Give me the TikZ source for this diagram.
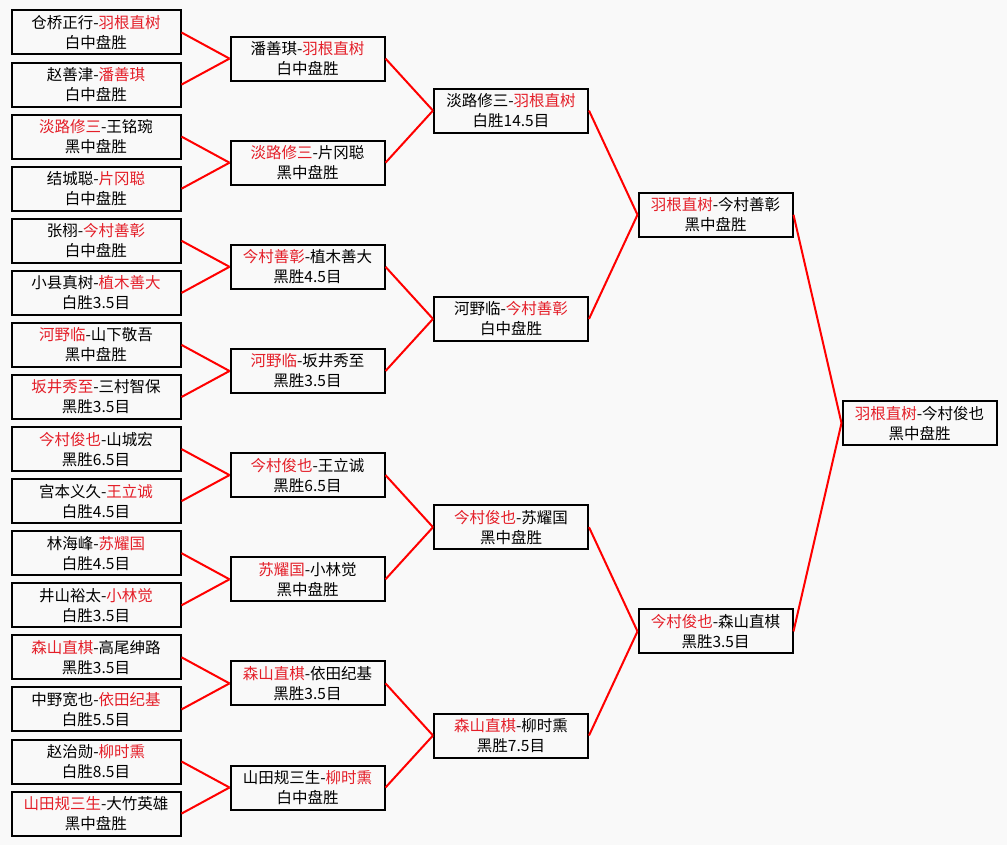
\documentclass[tikz,border=0pt]{standalone}
\usepackage{fontspec}
\setmainfont{Noto Sans CJK SC}
\usepackage{tikz}
\definecolor{winred}{RGB}{228,30,40}
\definecolor{paper}{RGB}{249,249,249}
\tikzstyle{player}=[draw,line width=2pt,minimum height=44pt,inner sep=0pt,align=center,font=\fontsize{15.5}{20}\selectfont]
\tikzstyle{first round}=[player,minimum width=169pt]
\tikzstyle{later round}=[player,minimum width=154pt]
\tikzstyle{link}=[draw,red,line width=2pt]
\newcommand{\winner}[1]{\textcolor{winred}{#1}}

\begin{document}
\begin{tikzpicture}[x=1pt,y=-1pt]
    \path[fill=paper,use as bounding box] (0,0) rectangle (1007,845);
    % first round
    \foreach \pos/\name/\txt in {{(96,32.5)/a1/仓桥正行-\winner{羽根直树}\\白中盘胜},
        {(96,84.6)/a2/赵善津-\winner{潘善琪}\\白中盘胜},
        {(96,136.6)/a3/\winner{淡路修三}-王铭琬\\黑中盘胜},
        {(96,188.7)/a4/结城聪-\winner{片冈聪}\\白中盘胜},
        {(96,240.8)/a5/张栩-\winner{今村善彰}\\白中盘胜},
        {(96,292.9)/a6/小县真树-\winner{植木善大}\\白胜3.5目},
        {(96,344.9)/a7/\winner{河野临}-山下敬吾\\黑中盘胜},
        {(96,397.0)/a8/\winner{坂井秀至}-三村智保\\黑胜3.5目},
        {(96,449.1)/a9/\winner{今村俊也}-山城宏\\黑胜6.5目},
        {(96,501.1)/a10/宫本义久-\winner{王立诚}\\白胜4.5目},
        {(96,553.2)/a11/林海峰-\winner{苏耀国}\\白胜4.5目},
        {(96,605.3)/a12/井山裕太-\winner{小林觉}\\白胜3.5目},
        {(96,657.3)/a13/\winner{森山直棋}-高尾绅路\\黑胜3.5目},
        {(96,709.4)/a14/中野宽也-\winner{依田纪基}\\白胜5.5目},
        {(96,761.5)/a15/赵治勋-\winner{柳时熏}\\白胜8.5目},
        {(96,813.6)/a16/\winner{山田规三生}-大竹英雄\\黑中盘胜}}
        \node[first round] (\name) at \pos {\txt};
    % second round
    \foreach \pos/\name/\txt in {{(307.5,58.6)/b1/潘善琪-\winner{羽根直树}\\白中盘胜},
        {(307.5,162.7)/b2/\winner{淡路修三}-片冈聪\\黑中盘胜},
        {(307.5,266.8)/b3/\winner{今村善彰}-植木善大\\黑胜4.5目},
        {(307.5,371.0)/b4/\winner{河野临}-坂井秀至\\黑胜3.5目},
        {(307.5,475.1)/b5/\winner{今村俊也}-王立诚\\黑胜6.5目},
        {(307.5,579.3)/b6/\winner{苏耀国}-小林觉\\黑中盘胜},
        {(307.5,683.4)/b7/\winner{森山直棋}-依田纪基\\黑胜3.5目},
        {(307.5,787.5)/b8/山田规三生-\winner{柳时熏}\\白中盘胜}}
        \node[later round] (\name) at \pos {\txt};
    % semi-finals and final
    \foreach \pos/\name/\txt in {{(511,110.6)/c1/淡路修三-\winner{羽根直树}\\白胜14.5目},
        {(511,318.9)/c2/河野临-\winner{今村善彰}\\白中盘胜},
        {(511,527.2)/c3/\winner{今村俊也}-苏耀国\\黑中盘胜},
        {(511,735.5)/c4/\winner{森山直棋}-柳时熏\\黑胜7.5目},
        {(715.5,214.8)/d1/\winner{羽根直树}-今村善彰\\黑中盘胜},
        {(715.5,631.4)/d2/\winner{今村俊也}-森山直棋\\黑胜3.5目},
        {(919.5,423.1)/e1/\winner{羽根直树}-今村俊也\\黑中盘胜}}
        \node[later round] (\name) at \pos {\txt};
    \foreach \source/\dest in {a1/b1,a2/b1,a3/b2,a4/b2,a5/b3,a6/b3,a7/b4,a8/b4,
        a9/b5,a10/b5,a11/b6,a12/b6,a13/b7,a14/b7,a15/b8,a16/b8,
        b1/c1,b2/c1,b3/c2,b4/c2,b5/c3,b6/c3,b7/c4,b8/c4,
        c1/d1,c2/d1,c3/d2,c4/d2,d1/e1,d2/e1}
        \path[link] (\source.east) -- (\dest.west);
\end{tikzpicture}
\end{document}
